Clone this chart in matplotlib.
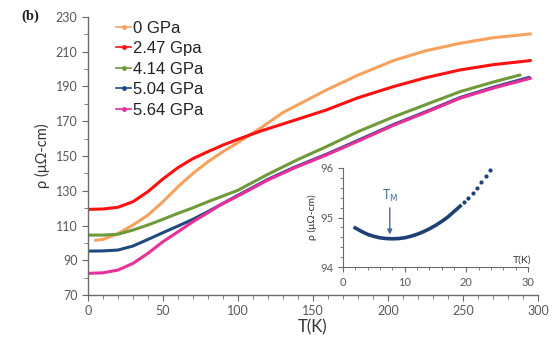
import matplotlib
matplotlib.use("Agg")
import matplotlib.pyplot as plt
from matplotlib.lines import Line2D
from matplotlib.ticker import MultipleLocator

# main panel: resistivity vs temperature at several pressures
labels = ["0 GPa", "2.47 Gpa", "4.14 GPa", "5.04 GPa", "5.64 GPa"]
colors = ["#F7A15E", "#FF1010", "#6F9A3A", "#1F4A80", "#E8309A"]

T_orange = [5, 10, 20, 30, 40, 50, 60, 70, 80, 90, 100, 115, 130, 159, 180, 204, 225, 248, 270, 295]
rho_orange = [101.5, 102, 105.3, 110.3, 116, 123.7, 132.3, 140, 146.7, 152.5, 157.7, 166,
              175, 188, 196.5, 205, 210.5, 214.8, 218, 220.2]

T_red = [0, 10, 20, 30, 40, 50, 60, 70, 80, 90, 100, 115, 140, 159, 180, 204, 225, 248, 270, 295]
rho_red = [119.3, 119.5, 120.5, 123.7, 129.5, 136.8, 143.3, 148.5, 152.5, 156.3, 159.6, 164.3,
           171.2, 176.5, 183.5, 190, 195, 199.5, 202.5, 204.9]

T_green = [0, 10, 20, 30, 40, 50, 60, 70, 80, 90, 100, 120, 140, 159, 180, 204, 225, 248, 270, 288]
rho_green = [104.5, 104.5, 105, 107.4, 110.3, 113.6, 117, 120.2, 123.7, 127, 130.3, 139.5,
             148, 155.4, 164, 172.6, 179.5, 187, 192.5, 196.6]

T_blue = [0, 10, 20, 30, 40, 50, 60, 70, 80, 88, 100, 120, 137, 159, 180, 204, 225, 248, 270, 294]
rho_blue = [95.3, 95.4, 95.9, 98.2, 102, 105.9, 109.7, 113.6, 118, 121.8, 127.4, 136.6,
            143.3, 151, 159, 168.2, 175.4, 183.6, 189.5, 195.2]

T_pink = [0, 10, 20, 30, 40, 50, 60, 70, 80, 88, 100, 120, 137, 159, 180, 204, 225, 248, 270, 295]
rho_pink = [82.5, 82.8, 84.4, 88.2, 94, 100.7, 106.4, 112.2, 117.4, 121.7, 127, 136.2,
            142.9, 150.6, 158.5, 167.8, 175, 183.2, 189, 194.7]

# inset: low temperature minimum for 5.04 GPa
T_in = [2, 3, 4, 5, 6, 7, 8, 9, 10, 11, 12, 13, 14, 15, 16, 17, 18, 19]
rho_in = [94.79, 94.72, 94.66, 94.62, 94.59, 94.575, 94.57, 94.575, 94.59, 94.62,
          94.66, 94.71, 94.77, 94.84, 94.92, 95.01, 95.12, 95.23]
T_in_dots = [19.6, 20.3, 21.0, 21.7, 22.4, 23.1, 23.8]
rho_in_dots = [95.31, 95.4, 95.5, 95.6, 95.71, 95.83, 95.96]

grey = "#595959"
plt.rcParams["font.family"] = ["Lato", "DejaVu Sans"]

fig = plt.figure(figsize=(5.53, 3.38), dpi=100)
ax = fig.add_axes([0.159, 0.127, 0.814, 0.823])

series = [(T_orange, rho_orange), (T_red, rho_red), (T_green, rho_green),
          (T_blue, rho_blue), (T_pink, rho_pink)]
for (t, r), c in zip(series, colors):
    ax.plot(t, r, color=c, lw=2.2, solid_capstyle="round", solid_joinstyle="round")

ax.set_xlim(0, 300)
ax.set_ylim(70, 230)
ax.xaxis.set_major_locator(MultipleLocator(50))
ax.xaxis.set_minor_locator(MultipleLocator(10))
ax.set_yticks(range(70, 231, 20))
ax.yaxis.set_minor_locator(MultipleLocator(10))
for s in ["top", "right"]:
    ax.spines[s].set_visible(False)
for s in ["left", "bottom"]:
    ax.spines[s].set_color("#6a6a6a")
    ax.spines[s].set_linewidth(1.0)
ax.tick_params(which="both", colors="#6a6a6a", labelcolor=grey, labelsize=9, direction="out")
ax.tick_params(which="major", length=4)
ax.tick_params(which="minor", length=3)
ax.set_xlabel("T(K)", fontsize=12, color="#333333", labelpad=1)
ax.set_ylabel("ρ (μΩ-cm)", fontsize=10.5, color="#333333", labelpad=4)

handles = [Line2D([], [], color=c, lw=1.2, marker="o", markersize=2.5) for c in colors]
leg = ax.legend(handles, labels, loc="upper left", bbox_to_anchor=(0.03, 1.04),
                frameon=False, handlelength=0.9, handletextpad=0.1,
                labelspacing=0.33, prop={"family": "Liberation Sans", "size": 12})
for txt in leg.get_texts():
    txt.set_color("#222222")

fig.text(0.038, 0.952, "(b)", fontsize=10.5, fontweight="bold",
         family="Liberation Serif", color="#222222", va="center")

# inset
axi = fig.add_axes([0.620, 0.21, 0.335, 0.293])
axi.plot(T_in, rho_in, color="#1F3F77", lw=2.6)
axi.plot(T_in_dots, rho_in_dots, color="#1F3F77", ls="none", marker="o", markersize=2)
axi.set_xlim(0, 30)
axi.set_ylim(94, 96)
axi.xaxis.set_major_locator(MultipleLocator(10))
axi.xaxis.set_minor_locator(MultipleLocator(2))
axi.yaxis.set_major_locator(MultipleLocator(1))
axi.yaxis.set_minor_locator(MultipleLocator(0.2))
axi.patch.set_alpha(0)
for s in ["top", "right"]:
    axi.spines[s].set_visible(False)
for s in ["left", "bottom"]:
    axi.spines[s].set_color("#6a6a6a")
axi.tick_params(which="both", colors="#6a6a6a", labelcolor=grey, labelsize=8, direction="out")
axi.tick_params(which="major", length=3.5)
axi.tick_params(which="minor", length=2)
axi.set_ylabel("ρ (μΩ-cm)", fontsize=7.5, color="#333333", labelpad=2)
axi.text(30.5, 94.05, "T(K)", fontsize=7.5, color="#333333", ha="right", va="bottom")
axi.annotate("", xy=(7.6, 94.6), xytext=(7.6, 95.25),
             arrowprops=dict(arrowstyle="-|>", color="#4A6A9A", lw=1.0, mutation_scale=7))
axi.text(7.6, 95.27, "T$_\\mathrm{M}$", fontsize=9, color="#4A6A9A", ha="center", va="bottom")

fig.savefig("out.png", dpi=100)
